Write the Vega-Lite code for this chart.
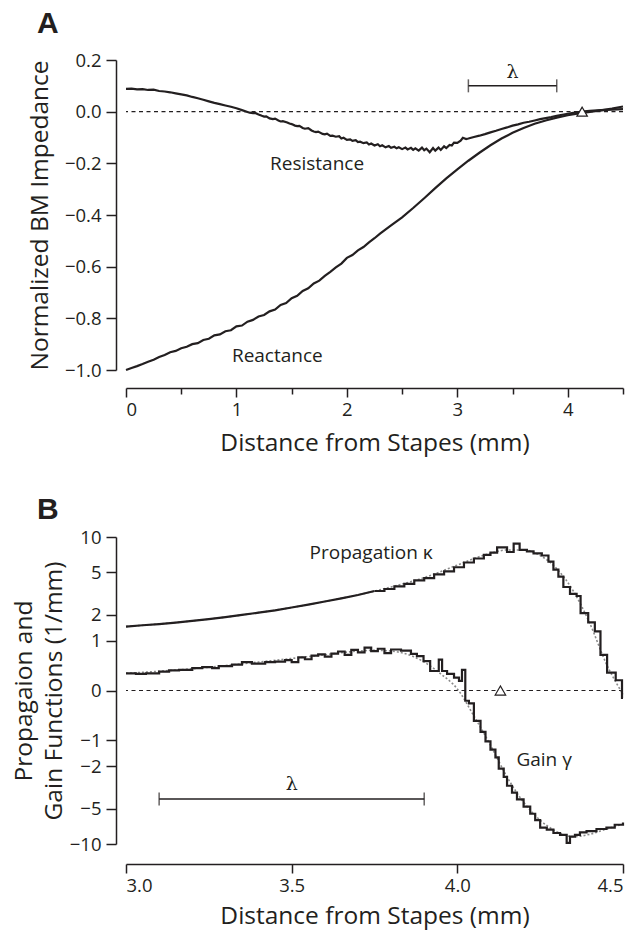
{
  "$schema": "https://vega.github.io/schema/vega-lite/v6.json",
  "background": "white",
  "padding": {"left": 11, "top": 9, "right": 8, "bottom": 5},
  "spacing": 40,
  "config": {
    "view": {"stroke": null},
    "font": "Open Sans",
    "axis": {
      "domainColor": "#231f20", "domainWidth": 1.5,
      "tickColor": "#231f20", "tickWidth": 1.5, "tickSize": 9,
      "labelColor": "#231f20", "titleColor": "#231f20",
      "labelFont": "Open Sans", "titleFont": "Open Sans",
      "labelFontSize": 18.5, "titleFontSize": 24.5, "titleFontWeight": "normal",
      "labelOverlap": false, "grid": false
    },
    "title": {"font": "Liberation Sans", "fontSize": 30, "fontWeight": "bold", "color": "#231f20", "anchor": "start", "frame": "group"}
  },
  "datasets": {
    "resistance": [
      {"x":0.00,"y":0.088},{"x":0.05,"y":0.089},{"x":0.10,"y":0.086},{"x":0.15,"y":0.087},{"x":0.20,"y":0.084},{"x":0.25,"y":0.085},{"x":0.30,"y":0.080},{"x":0.35,"y":0.078},{"x":0.40,"y":0.075},{"x":0.45,"y":0.071},{"x":0.50,"y":0.067},{"x":0.55,"y":0.063},{"x":0.60,"y":0.057},{"x":0.65,"y":0.052},{"x":0.70,"y":0.046},{"x":0.75,"y":0.040},{"x":0.80,"y":0.034},{"x":0.85,"y":0.029},{"x":0.90,"y":0.024},{"x":0.95,"y":0.019},{"x":1.00,"y":0.013},{"x":1.05,"y":0.006},{"x":1.10,"y":-0.001},{"x":1.12,"y":-0.004},{"x":1.15,"y":-0.006},{"x":1.17,"y":-0.005},{"x":1.20,"y":-0.011},{"x":1.23,"y":-0.016},{"x":1.25,"y":-0.019},{"x":1.27,"y":-0.018},{"x":1.30,"y":-0.026},{"x":1.33,"y":-0.029},{"x":1.35,"y":-0.027},{"x":1.38,"y":-0.034},{"x":1.40,"y":-0.038},{"x":1.42,"y":-0.037},{"x":1.46,"y":-0.042},{"x":1.48,"y":-0.046},{"x":1.50,"y":-0.048},{"x":1.53,"y":-0.054},{"x":1.55,"y":-0.056},{"x":1.57,"y":-0.055},{"x":1.60,"y":-0.063},{"x":1.62,"y":-0.066},{"x":1.65,"y":-0.064},{"x":1.68,"y":-0.073},{"x":1.70,"y":-0.077},{"x":1.72,"y":-0.079},{"x":1.74,"y":-0.077},{"x":1.78,"y":-0.086},{"x":1.80,"y":-0.088},{"x":1.82,"y":-0.085},{"x":1.85,"y":-0.094},{"x":1.87,"y":-0.093},{"x":1.90,"y":-0.097},{"x":1.93,"y":-0.095},{"x":1.95,"y":-0.104},{"x":1.97,"y":-0.101},{"x":2.00,"y":-0.109},{"x":2.03,"y":-0.107},{"x":2.05,"y":-0.113},{"x":2.08,"y":-0.110},{"x":2.10,"y":-0.118},{"x":2.12,"y":-0.116},{"x":2.15,"y":-0.122},{"x":2.18,"y":-0.119},{"x":2.20,"y":-0.127},{"x":2.22,"y":-0.123},{"x":2.25,"y":-0.131},{"x":2.28,"y":-0.126},{"x":2.30,"y":-0.134},{"x":2.32,"y":-0.130},{"x":2.35,"y":-0.138},{"x":2.38,"y":-0.133},{"x":2.40,"y":-0.140},{"x":2.43,"y":-0.136},{"x":2.45,"y":-0.142},{"x":2.47,"y":-0.138},{"x":2.50,"y":-0.145},{"x":2.53,"y":-0.139},{"x":2.55,"y":-0.146},{"x":2.58,"y":-0.140},{"x":2.60,"y":-0.148},{"x":2.62,"y":-0.142},{"x":2.65,"y":-0.151},{"x":2.68,"y":-0.139},{"x":2.70,"y":-0.149},{"x":2.72,"y":-0.143},{"x":2.75,"y":-0.157},{"x":2.78,"y":-0.141},{"x":2.80,"y":-0.151},{"x":2.83,"y":-0.139},{"x":2.85,"y":-0.148},{"x":2.88,"y":-0.134},{"x":2.90,"y":-0.141},{"x":2.93,"y":-0.129},{"x":2.95,"y":-0.131},{"x":2.97,"y":-0.120},{"x":3.00,"y":-0.121},{"x":3.03,"y":-0.112},{"x":3.05,"y":-0.101},{"x":3.08,"y":-0.106},{"x":3.10,"y":-0.104},{"x":3.15,"y":-0.098},{"x":3.20,"y":-0.093},{"x":3.25,"y":-0.087},{"x":3.30,"y":-0.080},{"x":3.35,"y":-0.074},{"x":3.40,"y":-0.067},{"x":3.45,"y":-0.061},{"x":3.50,"y":-0.054},{"x":3.55,"y":-0.049},{"x":3.60,"y":-0.043},{"x":3.65,"y":-0.039},{"x":3.70,"y":-0.034},{"x":3.75,"y":-0.029},{"x":3.80,"y":-0.025},{"x":3.85,"y":-0.021},{"x":3.90,"y":-0.016},{"x":3.95,"y":-0.012},{"x":4.00,"y":-0.008},{"x":4.05,"y":-0.005},{"x":4.10,"y":-0.002},{"x":4.15,"y":0.001},{"x":4.20,"y":0.003},{"x":4.30,"y":0.006},{"x":4.40,"y":0.008},{"x":4.50,"y":0.010}
    ],
    "reactance": [
      {"x":0.00,"y":-1.000},{"x":0.05,"y":-0.992},{"x":0.10,"y":-0.985},{"x":0.15,"y":-0.977},{"x":0.20,"y":-0.968},{"x":0.25,"y":-0.960},{"x":0.30,"y":-0.950},{"x":0.35,"y":-0.942},{"x":0.40,"y":-0.931},{"x":0.45,"y":-0.926},{"x":0.50,"y":-0.916},{"x":0.55,"y":-0.910},{"x":0.60,"y":-0.900},{"x":0.65,"y":-0.896},{"x":0.70,"y":-0.884},{"x":0.75,"y":-0.879},{"x":0.80,"y":-0.866},{"x":0.85,"y":-0.862},{"x":0.90,"y":-0.850},{"x":0.95,"y":-0.846},{"x":1.00,"y":-0.831},{"x":1.05,"y":-0.828},{"x":1.10,"y":-0.813},{"x":1.15,"y":-0.806},{"x":1.20,"y":-0.793},{"x":1.25,"y":-0.787},{"x":1.30,"y":-0.773},{"x":1.35,"y":-0.766},{"x":1.40,"y":-0.748},{"x":1.45,"y":-0.741},{"x":1.50,"y":-0.722},{"x":1.55,"y":-0.713},{"x":1.60,"y":-0.694},{"x":1.65,"y":-0.684},{"x":1.70,"y":-0.665},{"x":1.75,"y":-0.654},{"x":1.80,"y":-0.636},{"x":1.85,"y":-0.620},{"x":1.90,"y":-0.603},{"x":1.95,"y":-0.588},{"x":2.00,"y":-0.566},{"x":2.05,"y":-0.555},{"x":2.10,"y":-0.537},{"x":2.15,"y":-0.524},{"x":2.20,"y":-0.506},{"x":2.25,"y":-0.490},{"x":2.30,"y":-0.472},{"x":2.40,"y":-0.440},{"x":2.50,"y":-0.409},{"x":2.60,"y":-0.373},{"x":2.70,"y":-0.335},{"x":2.80,"y":-0.296},{"x":2.90,"y":-0.258},{"x":3.00,"y":-0.223},{"x":3.10,"y":-0.190},{"x":3.20,"y":-0.159},{"x":3.30,"y":-0.130},{"x":3.40,"y":-0.104},{"x":3.50,"y":-0.082},{"x":3.60,"y":-0.063},{"x":3.70,"y":-0.047},{"x":3.80,"y":-0.034},{"x":3.90,"y":-0.023},{"x":4.00,"y":-0.014},{"x":4.10,"y":-0.007},{"x":4.20,"y":-0.001},{"x":4.30,"y":0.005},{"x":4.40,"y":0.012},{"x":4.50,"y":0.020}
    ],
    "kappaSmooth": [
      {"x":3.00,"y":1.48},{"x":3.05,"y":1.53},{"x":3.10,"y":1.58},{"x":3.15,"y":1.64},{"x":3.20,"y":1.71},{"x":3.25,"y":1.79},{"x":3.30,"y":1.88},{"x":3.35,"y":1.98},{"x":3.40,"y":2.09},{"x":3.45,"y":2.21},{"x":3.50,"y":2.36},{"x":3.55,"y":2.52},{"x":3.60,"y":2.70},{"x":3.65,"y":2.90},{"x":3.70,"y":3.12},{"x":3.75,"y":3.40}
    ],
    "kappa": [
      {"x":3.75,"y":3.40},{"x":3.78,"y":3.55},{"x":3.81,"y":3.75},{"x":3.84,"y":3.95},{"x":3.87,"y":4.25},{"x":3.90,"y":4.45},{"x":3.93,"y":4.80},{"x":3.96,"y":5.10},{"x":3.99,"y":5.55},{"x":4.02,"y":6.10},{"x":4.05,"y":6.60},{"x":4.08,"y":7.10},{"x":4.10,"y":7.40},{"x":4.12,"y":8.20},{"x":4.15,"y":7.50},{"x":4.17,"y":8.80},{"x":4.188,"y":7.80},{"x":4.21,"y":7.60},{"x":4.23,"y":7.30},{"x":4.255,"y":7.00},{"x":4.275,"y":6.20},{"x":4.29,"y":5.30},{"x":4.305,"y":4.60},{"x":4.32,"y":3.70},{"x":4.34,"y":3.20},{"x":4.36,"y":3.05},{"x":4.372,"y":2.07},{"x":4.395,"y":1.65},{"x":4.415,"y":1.30},{"x":4.432,"y":0.62},{"x":4.452,"y":0.26},{"x":4.478,"y":0.14},{"x":4.497,"y":-0.10},{"x":4.50,"y":-0.10}
    ],
    "kappaFit": [
      {"x":3.00,"y":1.48},{"x":3.20,"y":1.71},{"x":3.40,"y":2.09},{"x":3.60,"y":2.70},{"x":3.80,"y":3.70},{"x":3.90,"y":4.50},{"x":4.00,"y":5.80},{"x":4.05,"y":6.60},{"x":4.10,"y":7.30},{"x":4.15,"y":7.80},{"x":4.20,"y":7.80},{"x":4.25,"y":7.00},{"x":4.30,"y":5.40},{"x":4.35,"y":3.40},{"x":4.40,"y":1.60},{"x":4.45,"y":0.42},{"x":4.50,"y":-0.05}
    ],
    "gamma": [
      {"x":3.00,"y":0.25},{"x":3.03,"y":0.24},{"x":3.06,"y":0.25},{"x":3.10,"y":0.28},{"x":3.13,"y":0.30},{"x":3.16,"y":0.31},{"x":3.20,"y":0.34},{"x":3.23,"y":0.36},{"x":3.26,"y":0.34},{"x":3.28,"y":0.38},{"x":3.32,"y":0.41},{"x":3.35,"y":0.46},{"x":3.38,"y":0.43},{"x":3.42,"y":0.46},{"x":3.45,"y":0.47},{"x":3.48,"y":0.50},{"x":3.50,"y":0.46},{"x":3.52,"y":0.56},{"x":3.54,"y":0.52},{"x":3.56,"y":0.60},{"x":3.58,"y":0.63},{"x":3.60,"y":0.58},{"x":3.62,"y":0.65},{"x":3.64,"y":0.70},{"x":3.66,"y":0.62},{"x":3.68,"y":0.74},{"x":3.70,"y":0.68},{"x":3.72,"y":0.80},{"x":3.74,"y":0.71},{"x":3.76,"y":0.77},{"x":3.78,"y":0.66},{"x":3.80,"y":0.75},{"x":3.83,"y":0.72},{"x":3.86,"y":0.64},{"x":3.878,"y":0.59},{"x":3.898,"y":0.48},{"x":3.918,"y":0.29},{"x":3.944,"y":0.51},{"x":3.954,"y":0.29},{"x":3.969,"y":0.24},{"x":3.99,"y":0.18},{"x":4.005,"y":0.13},{"x":4.014,"y":0.31},{"x":4.024,"y":-0.14},{"x":4.035,"y":-0.18},{"x":4.05,"y":-0.50},{"x":4.07,"y":-0.76},{"x":4.085,"y":-1.03},{"x":4.10,"y":-1.30},{"x":4.115,"y":-1.60},{"x":4.125,"y":-2.10},{"x":4.14,"y":-2.55},{"x":4.15,"y":-3.10},{"x":4.165,"y":-3.60},{"x":4.18,"y":-4.15},{"x":4.20,"y":-4.80},{"x":4.22,"y":-5.55},{"x":4.235,"y":-6.30},{"x":4.25,"y":-7.30},{"x":4.27,"y":-7.60},{"x":4.29,"y":-8.10},{"x":4.31,"y":-8.40},{"x":4.33,"y":-9.80},{"x":4.34,"y":-8.70},{"x":4.355,"y":-8.40},{"x":4.37,"y":-8.00},{"x":4.39,"y":-7.80},{"x":4.42,"y":-7.50},{"x":4.45,"y":-7.30},{"x":4.475,"y":-6.90},{"x":4.50,"y":-6.60}
    ],
    "gammaFit": [
      {"x":3.00,"y":0.25},{"x":3.20,"y":0.33},{"x":3.40,"y":0.46},{"x":3.60,"y":0.62},{"x":3.70,"y":0.71},{"x":3.75,"y":0.73},{"x":3.80,"y":0.71},{"x":3.85,"y":0.63},{"x":3.90,"y":0.46},{"x":3.95,"y":0.24},{"x":4.00,"y":0.02},{"x":4.05,"y":-0.40},{"x":4.10,"y":-1.15},{"x":4.15,"y":-2.55},{"x":4.20,"y":-4.40},{"x":4.25,"y":-6.30},{"x":4.30,"y":-7.90},{"x":4.35,"y":-8.70},{"x":4.40,"y":-8.30},{"x":4.45,"y":-7.50},{"x":4.50,"y":-6.80}
    ],
    "markerA": [{"x":4.13,"y":0}],
    "markerB": [{"x":4.13,"y":0}],
    "lambdaA": [{"x":3.1,"x2":3.9,"y":0.1,"mid":3.5,"label":"λ"}],
    "lambdaB": [{"x":3.1,"x2":3.9,"y":-4.1,"mid":3.5,"label":"λ"}],
    "labelsA": [{"x":1.73,"y":-0.226,"label":"Resistance"},{"x":1.37,"y":-0.968,"label":"Reactance"}],
    "labelsB": [{"x":3.74,"y":6.5,"label":"Propagation κ"},{"x":4.262,"y":-2.0,"label":"Gain γ"}]
  },
  "vconcat": [
    {
      "width": 497,
      "height": 310,
      "title": {"text": "A", "dx": -89, "offset": 12},
      "layer": [
        {
          "data": {"values": [{"line": "zero"}]},
          "mark": {"type": "rule", "strokeDash": [4, 3.5], "strokeWidth": 1.2, "color": "#231f20"},
          "encoding": {"y": {"datum": 0, "type": "quantitative"}}
        },
        {
          "data": {"name": "reactance"},
          "mark": {"type": "line", "color": "#231f20", "strokeWidth": 2.2},
          "encoding": {
            "x": {"field": "x", "type": "quantitative", "scale": {"domain": [0, 4.5], "nice": false, "zero": false},
                  "axis": {"title": "Distance from Stapes (mm)", "values": [0,0.5,1,1.5,2,2.5,3,3.5,4,4.5], "tickCount": 20, "labelExpr": "datum.value % 1 === 0 ? format(datum.value, 'd') : ''", "tickSize": {"condition": {"test": "datum.value % 1 !== 0", "value": 6}, "value": 9}, "offset": 18, "labelPadding": 3, "titlePadding": 13}},
            "y": {"field": "y", "type": "quantitative", "scale": {"domain": [-1, 0.2], "nice": false, "zero": false},
                  "axis": {"title": "Normalized BM Impedance", "values": [-1,-0.8,-0.6,-0.4,-0.2,0,0.2], "tickCount": 20, "format": ".1f", "offset": 10, "tickSize": 10, "labelPadding": 5, "titlePadding": 12, "labelOverlap": false}}
          }
        },
        {
          "data": {"name": "resistance"},
          "mark": {"type": "line", "color": "#231f20", "strokeWidth": 2.2},
          "encoding": {"x": {"field": "x", "type": "quantitative"}, "y": {"field": "y", "type": "quantitative"}}
        },
        {
          "data": {"name": "markerA"},
          "mark": {"type": "point", "shape": "triangle-up", "size": 110, "filled": true, "fill": "white", "stroke": "#231f20", "strokeWidth": 1.2, "opacity": 1},
          "encoding": {"x": {"field": "x", "type": "quantitative"}, "y": {"field": "y", "type": "quantitative"}}
        },
        {
          "data": {"name": "lambdaA"},
          "mark": {"type": "rule", "color": "#231f20", "strokeWidth": 1.5},
          "encoding": {"x": {"field": "x", "type": "quantitative"}, "x2": {"field": "x2"}, "y": {"field": "y", "type": "quantitative"}}
        },
        {
          "data": {"name": "lambdaA"},
          "mark": {"type": "tick", "orient": "vertical", "color": "#231f20", "size": 13, "thickness": 1.5},
          "encoding": {"x": {"field": "x", "type": "quantitative"}, "y": {"field": "y", "type": "quantitative"}}
        },
        {
          "data": {"name": "lambdaA"},
          "mark": {"type": "tick", "orient": "vertical", "color": "#231f20", "size": 13, "thickness": 1.5},
          "encoding": {"x": {"field": "x2", "type": "quantitative"}, "y": {"field": "y", "type": "quantitative"}}
        },
        {
          "data": {"name": "lambdaA"},
          "mark": {"type": "text", "font": "DejaVu Serif", "fontSize": 19, "color": "#231f20", "baseline": "alphabetic", "dy": -8},
          "encoding": {"x": {"field": "mid", "type": "quantitative"}, "y": {"field": "y", "type": "quantitative"}, "text": {"field": "label"}}
        },
        {
          "data": {"name": "labelsA"},
          "mark": {"type": "text", "font": "Open Sans", "fontSize": 19, "color": "#231f20", "baseline": "alphabetic", "align": "center"},
          "encoding": {"x": {"field": "x", "type": "quantitative"}, "y": {"field": "y", "type": "quantitative"}, "text": {"field": "label"}}
        }
      ]
    },
    {
      "width": 497,
      "height": 307,
      "title": {"text": "B", "dx": -89, "offset": 3},
      "layer": [
        {
          "data": {"values": [{"line": "zero"}]},
          "mark": {"type": "rule", "strokeDash": [4, 3.5], "strokeWidth": 1.2, "color": "#231f20"},
          "encoding": {"y": {"datum": 0, "type": "quantitative"}}
        },
        {
          "data": {"name": "kappaFit"},
          "mark": {"type": "line", "color": "#8a8a8a", "strokeWidth": 1.6, "strokeDash": [2, 2], "interpolate": "monotone"},
          "encoding": {
            "x": {"field": "x", "type": "quantitative", "scale": {"domain": [3, 4.5], "nice": false, "zero": false},
                  "axis": {"title": "Distance from Stapes (mm)", "values": [3, 3.5, 4, 4.5], "tickCount": 20, "format": ".1f", "offset": 20, "tickSize": 9, "labelPadding": 3, "titlePadding": 10}},
            "y": {"field": "y", "type": "quantitative", "scale": {"type": "symlog", "constant": 0.7, "domain": [-10, 10], "nice": false, "zero": false},
                  "axis": {"title": ["Propagaion and", "Gain Functions (1/mm)"], "titleLineHeight": 30, "values": [-10,-5,-2,-1,0,1,2,5,10], "tickCount": 20, "labelExpr": "format(datum.value, 'd')", "labelOverlap": false, "labelBound": false, "offset": 10, "tickSize": 10, "labelPadding": 5, "titlePadding": 3}}
          }
        },
        {
          "data": {"name": "gammaFit"},
          "mark": {"type": "line", "color": "#8a8a8a", "strokeWidth": 1.6, "strokeDash": [2, 2], "interpolate": "monotone"},
          "encoding": {"x": {"field": "x", "type": "quantitative"}, "y": {"field": "y", "type": "quantitative"}}
        },
        {
          "data": {"name": "kappaSmooth"},
          "mark": {"type": "line", "color": "#231f20", "strokeWidth": 2.2},
          "encoding": {"x": {"field": "x", "type": "quantitative"}, "y": {"field": "y", "type": "quantitative"}}
        },
        {
          "data": {"name": "kappa"},
          "mark": {"type": "line", "color": "#231f20", "strokeWidth": 2.2, "interpolate": "step-after"},
          "encoding": {"x": {"field": "x", "type": "quantitative"}, "y": {"field": "y", "type": "quantitative"}}
        },
        {
          "data": {"name": "gamma"},
          "mark": {"type": "line", "color": "#231f20", "strokeWidth": 2.2, "interpolate": "step-after"},
          "encoding": {"x": {"field": "x", "type": "quantitative"}, "y": {"field": "y", "type": "quantitative"}}
        },
        {
          "data": {"name": "markerB"},
          "mark": {"type": "point", "shape": "triangle-up", "size": 110, "filled": true, "fill": "white", "stroke": "#231f20", "strokeWidth": 1.2, "opacity": 1},
          "encoding": {"x": {"field": "x", "type": "quantitative"}, "y": {"field": "y", "type": "quantitative"}}
        },
        {
          "data": {"name": "lambdaB"},
          "mark": {"type": "rule", "color": "#231f20", "strokeWidth": 1.5},
          "encoding": {"x": {"field": "x", "type": "quantitative"}, "x2": {"field": "x2"}, "y": {"field": "y", "type": "quantitative"}}
        },
        {
          "data": {"name": "lambdaB"},
          "mark": {"type": "tick", "orient": "vertical", "color": "#231f20", "size": 13, "thickness": 1.5},
          "encoding": {"x": {"field": "x", "type": "quantitative"}, "y": {"field": "y", "type": "quantitative"}}
        },
        {
          "data": {"name": "lambdaB"},
          "mark": {"type": "tick", "orient": "vertical", "color": "#231f20", "size": 13, "thickness": 1.5},
          "encoding": {"x": {"field": "x2", "type": "quantitative"}, "y": {"field": "y", "type": "quantitative"}}
        },
        {
          "data": {"name": "lambdaB"},
          "mark": {"type": "text", "font": "DejaVu Serif", "fontSize": 19, "color": "#231f20", "baseline": "alphabetic", "dy": -9},
          "encoding": {"x": {"field": "mid", "type": "quantitative"}, "y": {"field": "y", "type": "quantitative"}, "text": {"field": "label"}}
        },
        {
          "data": {"name": "labelsB"},
          "mark": {"type": "text", "font": "Open Sans", "fontSize": 19, "color": "#231f20", "baseline": "alphabetic", "align": "center"},
          "encoding": {"x": {"field": "x", "type": "quantitative"}, "y": {"field": "y", "type": "quantitative"}, "text": {"field": "label"}}
        }
      ]
    }
  ],
  "resolve": {"scale": {"x": "independent", "y": "independent"}}
}
